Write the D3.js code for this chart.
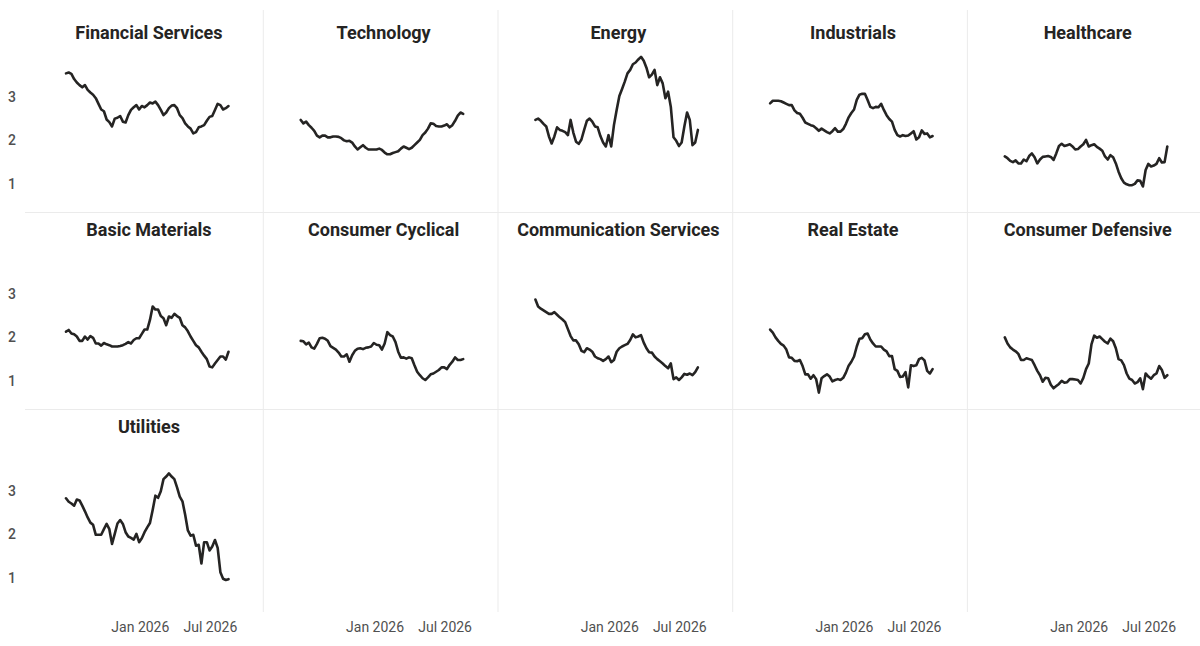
<!DOCTYPE html>
<html><head><meta charset="utf-8">
<script src="https://cdn.jsdelivr.net/npm/d3@7"></script>
<style>
body{margin:0;background:#fff;}
svg{display:block;font-family:Roboto,"Open Sans",sans-serif;}
</style>
</head><body>
<svg id="chart" width="1200" height="646"></svg>
<script>
const sectors = ["Financial Services","Technology","Energy","Industrials","Healthcare","Basic Materials","Consumer Cyclical","Communication Services","Real Estate","Consumer Defensive","Utilities"];
const firstWeek = "2025-06-28";
const yTickValues = [1, 2, 3];
const xTickDates = ["2026-01-01", "2026-07-01"];

const financialServices = [3.52,3.54,3.51,3.39,3.31,3.25,3.20,3.25,3.14,3.08,3.03,2.95,2.82,2.69,2.65,2.46,2.40,2.30,2.48,2.50,2.54,2.41,2.39,2.56,2.68,2.74,2.79,2.69,2.77,2.74,2.79,2.85,2.83,2.87,2.79,2.68,2.56,2.62,2.72,2.78,2.79,2.72,2.56,2.49,2.37,2.30,2.25,2.14,2.17,2.28,2.30,2.33,2.43,2.52,2.54,2.68,2.82,2.79,2.69,2.72,2.77];
const technology = [2.45,2.37,2.41,2.33,2.27,2.20,2.09,2.05,2.09,2.09,2.05,2.05,2.07,2.07,2.06,2.03,1.98,1.96,1.97,1.93,1.84,1.77,1.82,1.87,1.81,1.77,1.77,1.77,1.77,1.79,1.76,1.70,1.66,1.66,1.69,1.71,1.73,1.79,1.84,1.81,1.78,1.81,1.87,1.93,1.99,2.10,2.16,2.25,2.37,2.36,2.31,2.30,2.30,2.32,2.35,2.28,2.33,2.43,2.55,2.62,2.59];
const energy = [2.45,2.48,2.43,2.36,2.30,2.07,1.91,2.07,2.28,2.22,2.20,2.17,2.10,2.45,2.16,1.95,1.90,2.00,2.22,2.43,2.48,2.41,2.30,2.28,2.08,1.93,1.84,2.10,1.84,2.33,2.68,3.00,3.16,3.33,3.52,3.60,3.73,3.77,3.84,3.90,3.81,3.65,3.43,3.49,3.60,3.25,3.43,3.29,2.95,3.10,2.75,2.05,1.97,1.85,1.93,2.30,2.62,2.45,1.87,1.93,2.22];
const industrials = [2.83,2.89,2.89,2.89,2.88,2.85,2.82,2.79,2.79,2.67,2.61,2.59,2.50,2.39,2.36,2.33,2.31,2.26,2.20,2.25,2.21,2.17,2.14,2.19,2.26,2.18,2.18,2.24,2.36,2.51,2.61,2.69,2.91,3.03,3.05,3.05,2.91,2.75,2.72,2.75,2.74,2.82,2.68,2.56,2.47,2.41,2.22,2.10,2.07,2.10,2.08,2.09,2.14,2.19,2.00,2.05,2.21,2.13,2.14,2.05,2.08];
const healthcare = [1.61,1.57,1.51,1.48,1.52,1.45,1.45,1.54,1.50,1.62,1.68,1.59,1.45,1.54,1.60,1.61,1.62,1.60,1.53,1.68,1.85,1.90,1.85,1.87,1.89,1.84,1.77,1.78,1.84,1.89,1.99,1.84,1.87,1.89,1.83,1.79,1.74,1.61,1.54,1.64,1.59,1.45,1.26,1.11,1.01,0.97,0.95,0.95,0.98,1.06,1.05,0.92,1.30,1.44,1.38,1.40,1.44,1.57,1.47,1.48,1.84];
const basicMaterials = [2.11,2.15,2.07,2.05,2.00,1.90,1.90,2.00,1.93,2.01,1.97,1.84,1.84,1.79,1.85,1.82,1.80,1.77,1.77,1.77,1.78,1.80,1.83,1.87,1.84,1.92,1.96,1.96,2.06,2.16,2.16,2.38,2.69,2.62,2.62,2.47,2.42,2.26,2.46,2.43,2.52,2.47,2.43,2.26,2.21,2.12,2.00,1.90,1.80,1.75,1.65,1.56,1.48,1.31,1.29,1.38,1.46,1.54,1.54,1.47,1.65];
const consumerCyclical = [1.90,1.89,1.82,1.86,1.75,1.72,1.83,1.96,1.97,1.95,1.90,1.78,1.74,1.70,1.63,1.54,1.54,1.59,1.42,1.57,1.67,1.72,1.73,1.71,1.74,1.75,1.77,1.85,1.81,1.80,1.70,1.84,2.10,2.03,2.00,1.87,1.65,1.51,1.52,1.49,1.52,1.50,1.34,1.19,1.11,1.04,1.00,1.06,1.13,1.15,1.19,1.23,1.29,1.29,1.25,1.35,1.42,1.52,1.46,1.46,1.48];
const communicationServices = [2.85,2.69,2.64,2.60,2.56,2.52,2.52,2.56,2.50,2.44,2.39,2.33,2.17,2.01,1.91,1.91,1.82,1.67,1.64,1.73,1.70,1.65,1.54,1.50,1.48,1.44,1.48,1.54,1.41,1.46,1.65,1.73,1.77,1.80,1.83,1.92,2.05,1.98,2.00,2.03,1.86,1.73,1.64,1.63,1.54,1.48,1.43,1.38,1.32,1.27,1.38,1.02,1.06,1.00,1.06,1.14,1.12,1.15,1.11,1.18,1.29];
const realEstate = [2.16,2.09,1.98,1.90,1.83,1.79,1.70,1.52,1.51,1.44,1.43,1.46,1.32,1.13,1.13,1.03,1.11,1.02,0.71,1.04,1.09,1.13,1.08,0.97,1.00,1.02,1.00,1.05,1.17,1.33,1.42,1.54,1.77,1.95,1.96,2.05,2.07,1.93,1.84,1.77,1.77,1.77,1.70,1.66,1.55,1.55,1.25,1.21,1.07,1.08,1.18,0.83,1.34,1.32,1.34,1.48,1.51,1.45,1.21,1.15,1.25];
const consumerDefensive = [1.98,1.84,1.75,1.70,1.66,1.60,1.46,1.46,1.50,1.48,1.46,1.34,1.21,1.11,0.96,1.05,1.04,0.89,0.81,0.86,0.91,0.98,0.94,0.95,1.02,1.02,1.01,1.00,0.92,1.05,1.25,1.38,1.82,2.02,1.97,2.00,1.94,1.88,1.84,1.95,1.89,1.73,1.48,1.45,1.34,1.15,1.03,1.00,0.92,0.95,1.04,0.79,1.15,1.08,1.03,1.11,1.15,1.32,1.23,1.05,1.11];
const utilities = [2.81,2.73,2.69,2.64,2.78,2.76,2.64,2.51,2.37,2.25,2.20,1.97,1.97,1.97,2.10,2.22,2.10,1.76,1.99,2.23,2.31,2.22,2.03,1.93,1.90,1.86,1.99,1.80,1.89,2.03,2.14,2.24,2.54,2.87,2.82,2.97,3.25,3.31,3.38,3.31,3.25,3.06,2.85,2.74,2.43,2.07,1.95,1.97,1.72,1.74,1.31,1.80,1.80,1.61,1.70,1.85,1.67,1.11,0.96,0.93,0.95];

const seriesValues = [financialServices, technology, energy, industrials, healthcare, basicMaterials, consumerCyclical, communicationServices, realEstate, consumerDefensive, utilities];

// ---- layout ----
const W = 1200, H = 646;
const nCols = 5, nRows = 3;
const x0 = 28.6, colW = 234.7;
const y0 = 15.5, rowH = 197;
const gridColor = "#EBEBEB";
const textDark = "#252423";
const textGray = "#505050";

const parseDate = d3.timeParse("%Y-%m-%d");
const start = parseDate(firstWeek);
const dates = financialServices.map((_, i) => d3.timeDay.offset(start, 7 * i));
const tickDates = xTickDates.map(parseDate);

const x = d3.scaleTime().domain([start, dates[dates.length - 1]]).range([37.4, 199.9]);
const y = d3.scaleLinear().domain([0.5, 4.0]).range([189.25, 37]);

const svg = d3.select("#chart");

// dividers
for (let c = 1; c < nCols; c++) {
  svg.append("line")
    .attr("x1", x0 + colW * c).attr("x2", x0 + colW * c)
    .attr("y1", 10).attr("y2", 612)
    .attr("stroke", gridColor).attr("stroke-width", 1);
}
for (let r = 1; r < nRows; r++) {
  svg.append("line")
    .attr("x1", 25).attr("x2", W)
    .attr("y1", y0 + rowH * r).attr("y2", y0 + rowH * r)
    .attr("stroke", gridColor).attr("stroke-width", 1);
}

const line = d3.line()
  .x((d, i) => x(dates[i]))
  .y(d => y(d));

sectors.forEach((name, k) => {
  const c = k % nCols, r = Math.floor(k / nCols);
  const g = svg.append("g").attr("transform", `translate(${x0 + colW * c},${y0 + rowH * r})`);
  g.append("text")
    .attr("x", colW / 2 + 3).attr("y", 23)
    .attr("text-anchor", "middle")
    .attr("font-size", 18).attr("font-weight", 700)
    .attr("fill", textDark)
    .text(name);
  g.append("path")
    .datum(seriesValues[k])
    .attr("d", line)
    .attr("fill", "none")
    .attr("stroke", "#252423")
    .attr("stroke-width", 2.6)
    .attr("stroke-linejoin", "round")
    .attr("stroke-linecap", "round");
});

// y axes (first column each row)
for (let r = 0; r < nRows; r++) {
  const ga = svg.append("g")
    .attr("transform", `translate(16,${y0 + rowH * r + 1})`)
    .call(d3.axisLeft(y).tickValues(yTickValues).tickSize(0).tickPadding(0).tickFormat(d3.format("d")));
  ga.select(".domain").remove();
  ga.selectAll("text").attr("font-size", 14).attr("font-weight", 500).attr("fill", textGray).attr("font-family", "Roboto, sans-serif");
}

// x axes (bottom row, all columns)
for (let c = 0; c < nCols; c++) {
  const ga = svg.append("g")
    .attr("transform", `translate(${x0 + colW * c + 1.5},617)`)
    .call(d3.axisBottom(x).tickValues(tickDates).tickSize(0).tickPadding(5).tickFormat(d3.timeFormat("%b %Y")));
  ga.select(".domain").remove();
  ga.selectAll("text").attr("font-size", 14).attr("fill", textGray).attr("font-family", "Roboto, sans-serif");
}
</script>
</body></html>
